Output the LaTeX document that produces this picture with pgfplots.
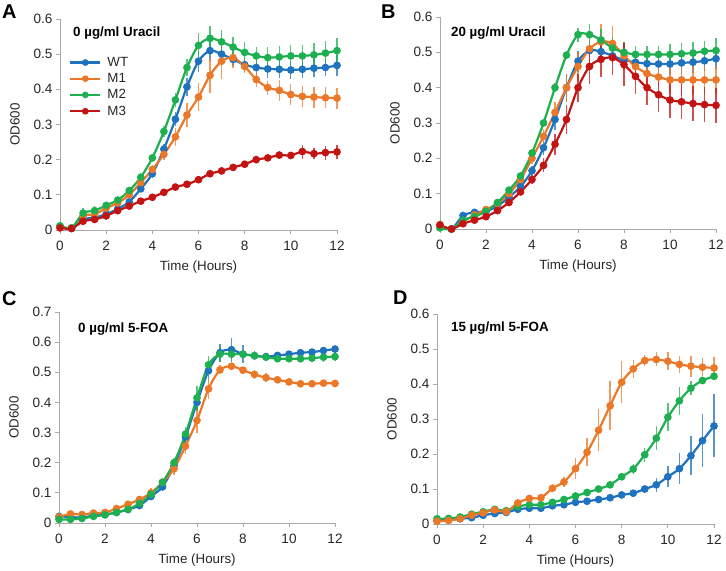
\documentclass[border=0pt]{standalone}
\usepackage{fontspec}
\setmainfont{Liberation Sans}
\usepackage{pgfplots}
\usepackage{pgfplotstable}
\pgfplotsset{compat=1.18}
\definecolor{cWT}{RGB}{31,114,189}
\definecolor{cMa}{RGB}{235,120,40}
\definecolor{cMb}{RGB}{30,176,80}
\definecolor{cMc}{RGB}{195,20,20}
\definecolor{axgray}{RGB}{170,170,170}

\pgfplotstableread{
x wt wte m1 m1e m2 m2e m3 m3e
0 0.010 0.005 0.010 0.005 0.012 0.005 0.006 0.005
0.5 0.005 0.005 0.005 0.005 0.006 0.005 0.004 0.004
1 0.030 0.008 0.040 0.010 0.048 0.015 0.025 0.010
1.5 0.035 0.008 0.045 0.010 0.055 0.012 0.030 0.008
2 0.045 0.008 0.062 0.008 0.070 0.010 0.040 0.006
2.5 0.060 0.008 0.077 0.008 0.085 0.008 0.055 0.006
3 0.080 0.010 0.100 0.010 0.112 0.010 0.068 0.006
3.5 0.117 0.010 0.135 0.012 0.150 0.012 0.082 0.006
4 0.160 0.012 0.172 0.012 0.205 0.012 0.093 0.006
4.5 0.230 0.015 0.215 0.015 0.280 0.015 0.107 0.006
5 0.315 0.020 0.265 0.025 0.370 0.020 0.122 0.006
5.5 0.407 0.025 0.327 0.035 0.462 0.025 0.130 0.006
6 0.480 0.030 0.378 0.040 0.525 0.035 0.143 0.006
6.5 0.510 0.030 0.440 0.050 0.545 0.035 0.160 0.008
7 0.500 0.020 0.480 0.050 0.535 0.035 0.168 0.008
7.5 0.485 0.020 0.490 0.030 0.520 0.030 0.178 0.008
8 0.470 0.020 0.465 0.020 0.505 0.030 0.187 0.008
8.5 0.462 0.025 0.428 0.020 0.495 0.025 0.200 0.008
9 0.458 0.025 0.405 0.020 0.490 0.030 0.205 0.010
9.5 0.457 0.025 0.397 0.030 0.492 0.030 0.213 0.012
10 0.455 0.025 0.385 0.030 0.495 0.030 0.212 0.010
10.5 0.457 0.025 0.380 0.030 0.495 0.030 0.223 0.020
11 0.460 0.025 0.378 0.030 0.498 0.035 0.217 0.015
11.5 0.462 0.025 0.376 0.030 0.503 0.035 0.220 0.020
12 0.468 0.030 0.375 0.030 0.510 0.035 0.222 0.020
}\dataA

\pgfplotstableread{
x wt wte m1 m1e m2 m2e m3 m3e
0 0.010 0.005 0.010 0.005 0.003 0.005 0.012 0.005
0.5 0.000 0.005 0.000 0.005 0.000 0.005 0.000 0.004
1 0.038 0.008 0.020 0.008 0.025 0.008 0.015 0.006
1.5 0.047 0.006 0.040 0.008 0.035 0.008 0.025 0.006
2 0.050 0.006 0.055 0.008 0.050 0.008 0.035 0.006
2.5 0.065 0.008 0.072 0.010 0.075 0.010 0.052 0.006
3 0.090 0.008 0.100 0.010 0.110 0.010 0.075 0.008
3.5 0.120 0.010 0.140 0.012 0.150 0.012 0.105 0.008
4 0.165 0.012 0.200 0.015 0.215 0.012 0.140 0.012
4.5 0.230 0.020 0.262 0.020 0.300 0.012 0.180 0.020
5 0.310 0.030 0.330 0.030 0.400 0.012 0.240 0.030
5.5 0.400 0.040 0.400 0.040 0.492 0.012 0.310 0.040
6 0.475 0.030 0.460 0.040 0.550 0.020 0.400 0.040
6.5 0.505 0.020 0.510 0.045 0.550 0.030 0.460 0.050
7 0.502 0.020 0.530 0.050 0.535 0.030 0.480 0.050
7.5 0.490 0.020 0.525 0.050 0.512 0.030 0.485 0.050
8 0.478 0.025 0.490 0.040 0.500 0.030 0.465 0.060
8.5 0.472 0.025 0.460 0.035 0.494 0.025 0.432 0.050
9 0.468 0.030 0.440 0.035 0.494 0.025 0.400 0.050
9.5 0.467 0.030 0.430 0.035 0.494 0.025 0.380 0.050
10 0.467 0.030 0.422 0.040 0.494 0.030 0.365 0.050
10.5 0.470 0.030 0.422 0.040 0.496 0.030 0.360 0.050
11 0.472 0.030 0.422 0.040 0.498 0.030 0.355 0.050
11.5 0.476 0.030 0.422 0.040 0.503 0.030 0.352 0.050
12 0.482 0.030 0.422 0.040 0.505 0.035 0.350 0.050
}\dataB

\pgfplotstableread{
x wt wte m1 m1e m2 m2e
0 0.022 0.005 0.020 0.005 0.012 0.005
0.5 0.020 0.005 0.030 0.008 0.012 0.005
1 0.018 0.005 0.028 0.008 0.015 0.005
1.5 0.025 0.005 0.033 0.008 0.022 0.005
2 0.028 0.005 0.035 0.008 0.027 0.005
2.5 0.035 0.005 0.048 0.010 0.035 0.005
3 0.045 0.006 0.062 0.010 0.045 0.006
3.5 0.058 0.008 0.078 0.012 0.065 0.008
4 0.088 0.010 0.100 0.015 0.095 0.010
4.5 0.120 0.015 0.135 0.015 0.135 0.012
5 0.190 0.015 0.180 0.020 0.200 0.015
5.5 0.285 0.020 0.255 0.025 0.295 0.025
6 0.400 0.030 0.340 0.040 0.415 0.040
6.5 0.505 0.030 0.445 0.035 0.525 0.030
7 0.565 0.030 0.508 0.015 0.560 0.025
7.5 0.575 0.040 0.520 0.010 0.560 0.015
8 0.560 0.030 0.507 0.010 0.560 0.010
8.5 0.555 0.015 0.493 0.015 0.555 0.010
9 0.552 0.010 0.482 0.015 0.550 0.010
9.5 0.556 0.010 0.475 0.010 0.545 0.012
10 0.560 0.010 0.468 0.008 0.545 0.012
10.5 0.565 0.010 0.462 0.006 0.545 0.012
11 0.567 0.010 0.462 0.006 0.547 0.012
11.5 0.572 0.010 0.464 0.006 0.550 0.015
12 0.577 0.010 0.463 0.006 0.552 0.015
}\dataC

\pgfplotstableread{
x wt wte m1 m1e m2 m2e
0 0.010 0.004 0.008 0.004 0.015 0.004
0.5 0.012 0.004 0.010 0.004 0.016 0.004
1 0.015 0.004 0.015 0.004 0.020 0.005
1.5 0.018 0.004 0.025 0.005 0.028 0.005
2 0.025 0.004 0.032 0.005 0.035 0.005
2.5 0.030 0.004 0.040 0.005 0.042 0.005
3 0.033 0.004 0.035 0.005 0.038 0.005
3.5 0.042 0.005 0.060 0.006 0.050 0.006
4 0.045 0.005 0.073 0.008 0.055 0.006
4.5 0.045 0.005 0.075 0.010 0.055 0.006
5 0.052 0.005 0.102 0.012 0.062 0.006
5.5 0.055 0.005 0.120 0.015 0.070 0.008
6 0.062 0.006 0.158 0.030 0.080 0.008
6.5 0.065 0.006 0.205 0.040 0.090 0.008
7 0.070 0.006 0.268 0.060 0.100 0.008
7.5 0.075 0.006 0.338 0.070 0.112 0.010
8 0.083 0.006 0.405 0.060 0.135 0.010
8.5 0.088 0.008 0.443 0.025 0.157 0.015
9 0.100 0.012 0.467 0.015 0.198 0.020
9.5 0.112 0.020 0.470 0.020 0.245 0.035
10 0.135 0.030 0.465 0.025 0.305 0.040
10.5 0.158 0.045 0.456 0.025 0.352 0.040
11 0.195 0.055 0.451 0.030 0.388 0.020
11.5 0.238 0.075 0.448 0.025 0.410 0.010
12 0.280 0.090 0.446 0.030 0.422 0.008
}\dataD

\pgfplotsset{
  panel/.style={
    scale only axis, anchor=south west,
    axis lines=left, axis line style={axgray, line width=0.8bp, -},
    enlargelimits=false, clip=false,
    xmin=0, xmax=12, ymin=0,
    xtick={0,2,...,12},
    tick align=outside, major tick length=4bp,
    tick style={axgray, line width=0.8bp},
    xtick pos=bottom, ytick pos=left,
    /pgf/number format/assume math mode=true,
    yticklabel style={/pgf/number format/fixed, /pgf/number format/precision=1},
    xticklabel style={yshift=-4bp},
    tick label style={font=\fontsize{13.6}{15}\selectfont, text=black!85},
    xlabel={Time (Hours)},
    ylabel={OD600},
    every axis y label/.style={at={([xshift=-45bp]axis description cs:0,0.5)}, rotate=90, anchor=center,
      font=\fontsize{13.4}{15}\selectfont, text=black!85},
    every axis x label/.style={at={([yshift=-37bp]axis description cs:0.5,0)}, anchor=center,
      font=\fontsize{13.4}{15}\selectfont, text=black!85},
    legend image code/.code={\draw[mark repeat=2, mark phase=2, mark size=2.2bp] plot coordinates {(0bp,0bp) (15bp,0bp) (30bp,0bp)};},
  },
  ser/.style={color=#1, line width=2.2bp, smooth, tension=0.5, mark=*, mark size=2.7bp,
    mark options={solid, fill=#1, draw=#1},
    error bars/.cd, y dir=both, y explicit, error mark=none,
    error bar style={line width=1.3bp, #1, opacity=0.75}},
}

\begin{document}
\begin{tikzpicture}[x=1bp,y=1bp]
\path[use as bounding box] (0,0) rectangle (726,571);

% Panel A
\begin{axis}[panel, at={(60bp,341bp)}, width=277bp, height=211bp, ymax=0.6,
  legend style={at={(axis description cs:0,1)}, anchor=north west, xshift=9bp, yshift=-37bp,
    draw=none, fill=none, inner sep=0pt, row sep=3.5bp,
    font=\fontsize{13.4}{15}\selectfont, text=black!85,
    nodes={inner sep=1bp},
    /tikz/every odd column/.append style={column sep=5bp}},
  legend cell align=left]
\addplot[ser=cWT] table[x=x, y=wt, y error=wte] {\dataA};
\addplot[ser=cMa] table[x=x, y=m1, y error=m1e] {\dataA};
\addplot[ser=cMb] table[x=x, y=m2, y error=m2e] {\dataA};
\addplot[ser=cMc] table[x=x, y=m3, y error=m3e] {\dataA};
\legend{WT, M1, M2, M3}
\end{axis}

% Panel B
\begin{axis}[panel, at={(440bp,342bp)}, width=276bp, height=212bp, ymax=0.6]
\addplot[ser=cWT] table[x=x, y=wt, y error=wte] {\dataB};
\addplot[ser=cMa] table[x=x, y=m1, y error=m1e] {\dataB};
\addplot[ser=cMb] table[x=x, y=m2, y error=m2e] {\dataB};
\addplot[ser=cMc] table[x=x, y=m3, y error=m3e] {\dataB};
\end{axis}

% Panel C
\begin{axis}[panel, at={(59bp,48bp)}, width=276bp, height=211bp, ymax=0.7]
\addplot[ser=cWT] table[x=x, y=wt, y error=wte] {\dataC};
\addplot[ser=cMa] table[x=x, y=m1, y error=m1e] {\dataC};
\addplot[ser=cMb] table[x=x, y=m2, y error=m2e] {\dataC};
\end{axis}

% Panel D
\begin{axis}[panel, at={(437bp,47bp)}, width=277bp, height=210bp, ymax=0.6]
\addplot[ser=cWT] table[x=x, y=wt, y error=wte] {\dataD};
\addplot[ser=cMb] table[x=x, y=m2, y error=m2e] {\dataD};
\addplot[ser=cMa] table[x=x, y=m1, y error=m1e] {\dataD};
\end{axis}

% Panel letters and titles
\begin{scope}[every node/.style={inner sep=0pt}]
\node[anchor=north west, font=\bfseries\fontsize{20}{21}\selectfont] at (2,566) {A};
\node[anchor=north west, font=\bfseries\fontsize{20}{21}\selectfont] at (381,566) {B};
\node[anchor=north west, font=\bfseries\fontsize{20}{21}\selectfont] at (2,280) {C};
\node[anchor=north west, font=\bfseries\fontsize{20}{21}\selectfont] at (393,280) {D};
\node[anchor=west, font=\bfseries\fontsize{13.4}{15}\selectfont] at (73,538) {0 µg/ml Uracil};
\node[anchor=west, font=\bfseries\fontsize{13.4}{15}\selectfont] at (451,538) {20 µg/ml Uracil};
\node[anchor=west, font=\bfseries\fontsize{13.4}{15}\selectfont] at (78,242) {0 µg/ml 5-FOA};
\node[anchor=west, font=\bfseries\fontsize{13.4}{15}\selectfont] at (451,243) {15 µg/ml 5-FOA};
\end{scope}
\end{tikzpicture}
\end{document}
